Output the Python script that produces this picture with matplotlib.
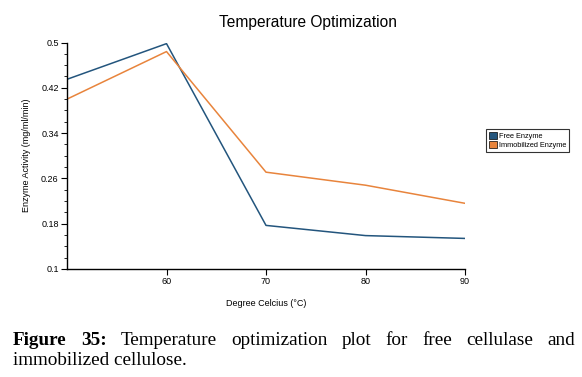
import matplotlib
matplotlib.use("Agg")
import matplotlib.pyplot as plt
from matplotlib.patches import Patch
from matplotlib.ticker import MultipleLocator, FixedLocator

plt.rcParams['font.family'] = ['Liberation Sans', 'DejaVu Sans']

temps = [50, 60, 70, 80, 90]
free_enzyme = [0.435, 0.498, 0.177, 0.159, 0.154]
immobilized_enzyme = [0.400, 0.484, 0.271, 0.248, 0.216]
series_names = ["Free Enzyme", "Immobilized Enzyme"]
y_ticks = [0.1, 0.18, 0.26, 0.34, 0.42, 0.5]
x_ticks = [60, 70, 80, 90]

blue = "#23557d"
orange = "#e8843c"

fig = plt.figure(figsize=(5.82, 3.77), dpi=100)
ax = fig.add_axes([67/582, 1-269/377, (465-67)/582, (269-42.5)/377])

ax.plot(temps, free_enzyme, color=blue, lw=1.1)
ax.plot(temps, immobilized_enzyme, color=orange, lw=1.1)

ax.set_xlim(50, 90)
ax.set_ylim(0.1, 0.5)
ax.xaxis.set_major_locator(FixedLocator(x_ticks))
ax.yaxis.set_major_locator(FixedLocator(y_ticks))
ax.set_yticklabels([f"{v:g}" for v in y_ticks])
ax.yaxis.set_minor_locator(MultipleLocator(0.02))
for s in ['top', 'right']:
    ax.spines[s].set_visible(False)
for s in ['left', 'bottom']:
    ax.spines[s].set_linewidth(1.0)
ax.tick_params(axis='both', which='major', labelsize=6.5, length=4, width=0.8, pad=2)
ax.tick_params(axis='y', which='minor', length=2, width=0.6)

fig.text(308/582, 1-23/377, "Temperature Optimization", ha='center', va='center', fontsize=11.2)
fig.text(27/582, 1-155/377, "Enzyme Activity (mg/ml/min)", rotation=90, ha='center', va='center', fontsize=6.5)
fig.text(266/582, 1-303/377, "Degree Celcius (°C)", ha='center', va='center', fontsize=6.5)

handles = [Patch(facecolor=blue, edgecolor='black', lw=0.5),
           Patch(facecolor=orange, edgecolor='black', lw=0.5)]
leg = fig.legend(handles, series_names, loc='upper left',
                 bbox_to_anchor=(486/582, 1-129/377), fontsize=5.3,
                 frameon=True, fancybox=False, handlelength=1.1, handleheight=1.1,
                 handletextpad=0.3, borderpad=0.35, labelspacing=0.2, borderaxespad=0)
leg.get_frame().set_edgecolor('black')
leg.get_frame().set_linewidth(0.8)

# Justified caption
serif = ['Liberation Serif', 'DejaVu Serif']
cap_size = 13.8
line1 = [("Figure", 'bold'), ("35:", 'bold'), ("Temperature", 'normal'), ("optimization", 'normal'),
         ("plot", 'normal'), ("for", 'normal'), ("free", 'normal'), ("cellulase", 'normal'), ("and", 'normal')]
line2 = "immobilized cellulose."
left_px, right_px = 13, 575
fig.canvas.draw()
renderer = fig.canvas.get_renderer()
texts = []
widths = []
for w, wt in line1:
    t = fig.text(0, 1-345/377, w, fontsize=cap_size, family=serif, fontweight=wt, va='baseline', ha='left')
    texts.append(t)
    widths.append(t.get_window_extent(renderer).width)
gap = (right_px - left_px - sum(widths)) / (len(widths) - 1)
x = left_px
for t, wd in zip(texts, widths):
    t.set_x(x/582)
    x += wd + gap
fig.text(left_px/582, 1-365/377, line2, fontsize=cap_size, family=serif, va='baseline', ha='left')

fig.savefig("out.png", dpi=100)
